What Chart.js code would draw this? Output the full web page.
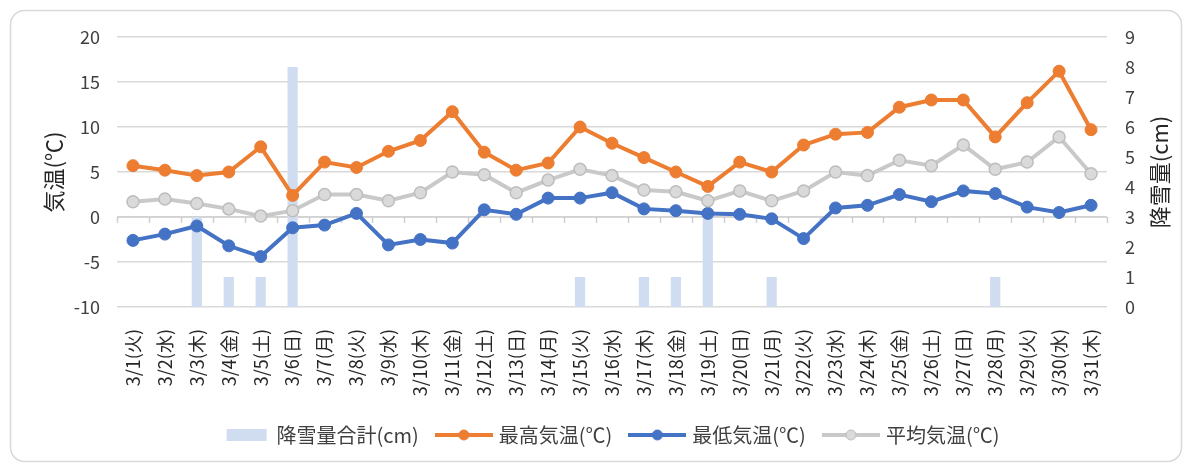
<!DOCTYPE html>
<html>
<head>
<meta charset="utf-8">
<script src="https://cdn.jsdelivr.net/npm/chart.js@4/dist/chart.umd.min.js"></script>
<style>
  html, body { margin: 0; padding: 0; background: #fff; }
  #wrap { width: 1184px; height: 465px; }
</style>
</head>
<body>
<div id="wrap"><canvas id="c" width="1184" height="465" style="width:1184px;height:465px"></canvas></div>
<script>
// March daily weather: snowfall (cm) and max / min / mean temperature (°C)
const days = ['3/1(火)','3/2(水)','3/3(木)','3/4(金)','3/5(土)','3/6(日)','3/7(月)','3/8(火)','3/9(水)','3/10(木)',
  '3/11(金)','3/12(土)','3/13(日)','3/14(月)','3/15(火)','3/16(水)','3/17(木)','3/18(金)','3/19(土)','3/20(日)',
  '3/21(月)','3/22(火)','3/23(水)','3/24(木)','3/25(金)','3/26(土)','3/27(日)','3/28(月)','3/29(火)','3/30(水)','3/31(木)'];
const snowfall = [0,0,3,1,1,8,0,0,0,0,0,0,0,0,1,0,1,1,3,0,1,0,0,0,0,0,0,1,0,0,0];
const maxTemp = [5.7,5.2,4.6,5.0,7.8,2.4,6.1,5.5,7.3,8.5,11.7,7.2,5.2,6.0,10.0,8.2,6.6,5.0,3.4,6.1,5.0,8.0,9.2,9.4,12.2,13.0,13.0,8.9,12.7,16.2,9.7];
const minTemp = [-2.6,-1.9,-1.0,-3.2,-4.4,-1.2,-0.9,0.4,-3.1,-2.5,-2.9,0.8,0.3,2.1,2.1,2.7,0.9,0.7,0.4,0.3,-0.2,-2.4,1.0,1.3,2.5,1.7,2.9,2.6,1.1,0.5,1.3];
const avgTemp = [1.7,2.0,1.5,0.9,0.1,0.7,2.5,2.5,1.8,2.7,5.0,4.7,2.7,4.1,5.3,4.6,3.0,2.8,1.8,2.9,1.8,2.9,5.0,4.6,6.3,5.7,8.0,5.3,6.1,8.9,4.8];
const tempAxis = { min: -10, max: 20, step: 5 };
const snowAxis = { min: 0, max: 9, step: 1 };
const seriesNames = ['降雪量合計(cm)', '最高気温(℃)', '最低気温(℃)', '平均気温(℃)'];

const FONT = '"Noto Sans CJK JP", "Noto Sans", sans-serif';
Chart.defaults.font.family = FONT;
Chart.defaults.color = '#404040';

const COL = {
  snow: 'rgb(208,221,240)',
  max: '#ED7D31',
  min: '#4472C4',
  avg: '#C9C9C9',
  avgFill: '#DADADA',
  grid: '#D9D9D9'
};

// legend swatches
function lineIcon(color, fill, ring) {
  const c = document.createElement('canvas');
  c.width = 58; c.height = 14;
  const g = c.getContext('2d');
  g.strokeStyle = color; g.lineWidth = 4; g.lineCap = 'butt';
  g.beginPath(); g.moveTo(0, 7); g.lineTo(58, 7); g.stroke();
  g.beginPath(); g.arc(29, 7, 5, 0, Math.PI * 2);
  g.fillStyle = fill; g.fill();
  g.lineWidth = 1; g.strokeStyle = ring; g.stroke();
  return c;
}
function boxIcon(color) {
  const c = document.createElement('canvas');
  c.width = 58; c.height = 14;
  const g = c.getContext('2d');
  g.fillStyle = color; g.fillRect(14, 1, 40, 12);
  return c;
}
const icons = [boxIcon(COL.snow), lineIcon(COL.max, COL.max, COL.max), lineIcon(COL.min, COL.min, COL.min), lineIcon(COL.avg, COL.avgFill, '#BDBDBD')];

// rounded frame around the whole chart
const frame = {
  id: 'frame',
  beforeDraw(chart) {
    const ctx = chart.ctx;
    ctx.save();
    ctx.fillStyle = '#fff';
    ctx.fillRect(0, 0, chart.width, chart.height);
    ctx.strokeStyle = '#D9D9D9';
    ctx.lineWidth = 1.5;
    ctx.beginPath();
    ctx.roundRect(10.5, 10.5, chart.width - 13, chart.height - 14, 14);
    ctx.stroke();
    ctx.restore();
  }
};

// category axis drawn across the 0 °C line with boundary tick marks
const zeroAxis = {
  id: 'zeroAxis',
  beforeDatasetsDraw(chart) {
    const { ctx, chartArea, scales } = chart;
    const x = scales.x, y = scales.y;
    const y0 = y.getPixelForValue(0);
    ctx.save();
    ctx.strokeStyle = '#CFCFCF';
    ctx.lineWidth = 1.5;
    ctx.beginPath();
    ctx.moveTo(chartArea.left, y0);
    ctx.lineTo(chartArea.right, y0);
    for (let i = 0; i <= days.length; i++) {
      const px = Math.round(x.getPixelForValue(i - 0.5)) + 0.5;
      ctx.moveTo(px, y0);
      ctx.lineTo(px, y0 + 6);
    }
    ctx.stroke();
    ctx.restore();
  }
};

// secondary axis title, reading bottom-to-top like the primary one
const rightTitle = {
  id: 'rightTitle',
  afterDraw(chart) {
    const s = chart.scales.y1;
    const ctx = chart.ctx;
    ctx.save();
    ctx.translate(s.right - 24, (s.top + s.bottom) / 2);
    ctx.rotate(-Math.PI / 2);
    ctx.font = '22px ' + FONT;
    ctx.fillStyle = '#262626';
    ctx.textAlign = 'center';
    ctx.textBaseline = 'middle';
    ctx.fillText('降雪量(cm)', 0, 0);
    ctx.restore();
  }
};

new Chart(document.getElementById('c'), {
  type: 'bar',
  data: {
    labels: days,
    datasets: [
      { type: 'bar', label: seriesNames[0], data: snowfall, yAxisID: 'y1', backgroundColor: COL.snow,
        categoryPercentage: 1, barPercentage: 0.32, order: 5 },
      { type: 'line', label: seriesNames[1], data: maxTemp, yAxisID: 'y', borderColor: COL.max, backgroundColor: COL.max,
        borderWidth: 4, pointRadius: 6, pointBorderWidth: 1, pointBorderColor: COL.max, tension: 0, order: 3 },
      { type: 'line', label: seriesNames[2], data: minTemp, yAxisID: 'y', borderColor: COL.min, backgroundColor: COL.min,
        borderWidth: 4, pointRadius: 6, pointBorderWidth: 1, pointBorderColor: COL.min, tension: 0, order: 2 },
      { type: 'line', label: seriesNames[3], data: avgTemp, yAxisID: 'y', borderColor: COL.avg, backgroundColor: COL.avgFill,
        borderWidth: 4, pointRadius: 6, pointBorderWidth: 1.5, pointBorderColor: '#BDBDBD', tension: 0, order: 1 }
    ]
  },
  options: {
    responsive: false,
    animation: false,
    layout: { padding: { left: 32, right: 0, top: 37, bottom: 10 } },
    plugins: {
      tooltip: { enabled: false },
      legend: {
        position: 'bottom',
        labels: {
          usePointStyle: true,
          pointStyleWidth: 50,
          padding: 20,
          color: '#404040',
          font: { size: 20 },
          generateLabels: (chart) => chart.data.datasets.map((ds, i) => ({
            text: ds.label,
            pointStyle: icons[i],
            datasetIndex: i,
            fillStyle: 'rgba(0,0,0,0)',
            strokeStyle: 'rgba(0,0,0,0)',
            lineWidth: 0,
            hidden: false,
            fontColor: '#404040'
          }))
        }
      }
    },
    scales: {
      x: {
        grid: { display: false },
        border: { display: false },
        ticks: { autoSkip: false, minRotation: 90, maxRotation: 90, padding: 14, color: '#262626', font: { size: 18 } },
        afterFit: (s) => { s.height = 98; }
      },
      y: {
        position: 'left',
        min: tempAxis.min, max: tempAxis.max,
        grid: { color: COL.grid, lineWidth: 1.5, drawTicks: false },
        border: { display: false },
        ticks: { stepSize: tempAxis.step, padding: 17, color: '#404040', font: { size: 18 } },
        title: { display: true, text: '気温(℃)', color: '#262626', font: { size: 22 }, padding: { top: 8, bottom: 0 } },
        afterFit: (s) => { s.width = 85; }
      },
      y1: {
        position: 'right',
        min: snowAxis.min, max: snowAxis.max,
        grid: { display: false, drawTicks: false },
        border: { display: false },
        ticks: { stepSize: snowAxis.step, padding: 18, color: '#404040', font: { size: 18 } },
        afterFit: (s) => { s.width = 77; }
      }
    }
  },
  plugins: [frame, zeroAxis, rightTitle]
});
</script>
</body>
</html>
